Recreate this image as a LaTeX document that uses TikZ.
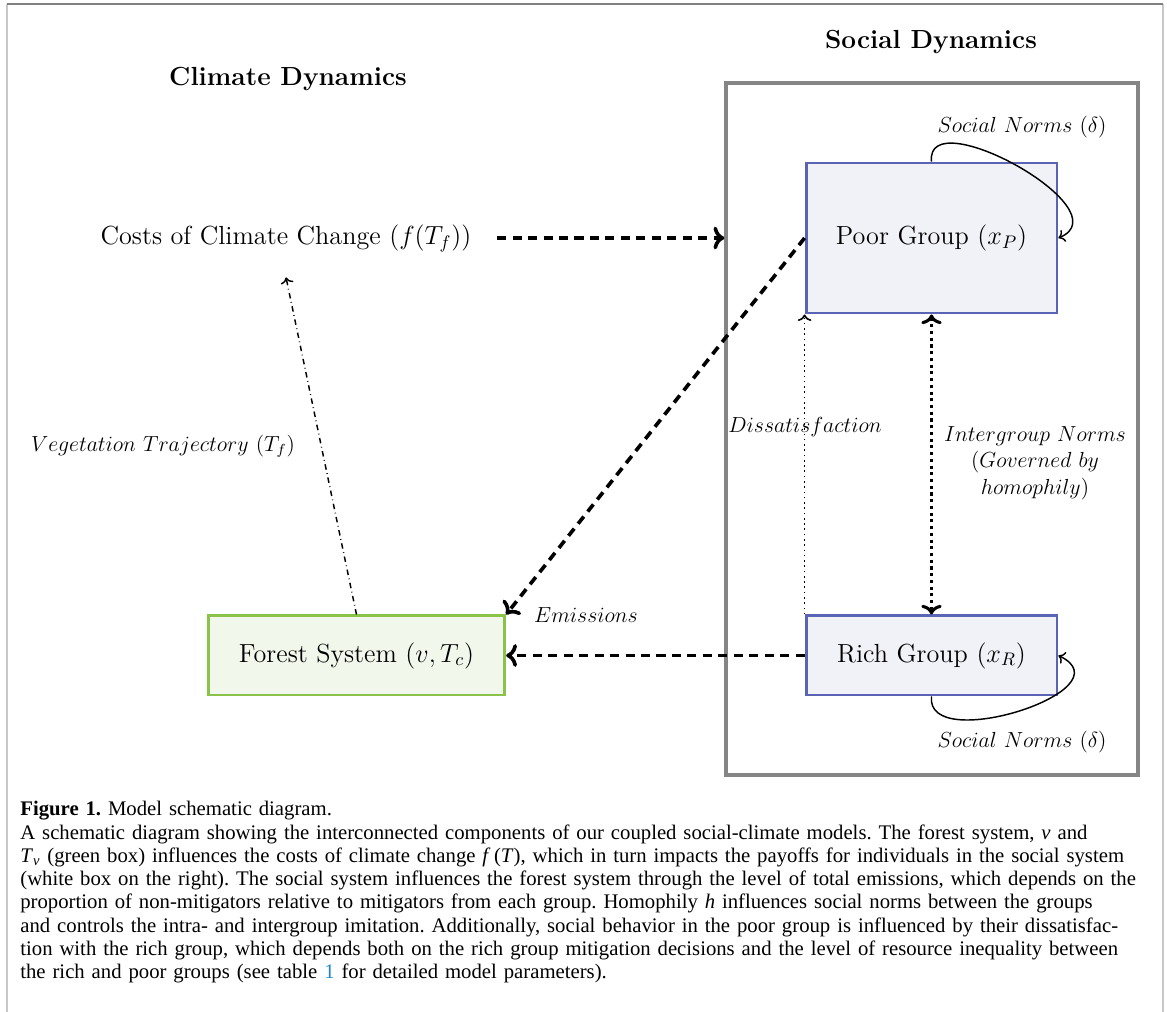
\documentclass[tikz,border=0pt,12pt]{standalone}
\usepackage{fontspec}
\newfontfamily\capfont{Liberation Serif}
\usepackage{amsmath}
\usepackage{xcolor}
\usetikzlibrary{arrows.meta, positioning}

\definecolor{poorblue}{HTML}{5B63B5}
\definecolor{poorfill}{HTML}{F1F1F8}
\definecolor{forestgreen}{HTML}{8BC34A}
\definecolor{forestfill}{HTML}{F2F7EC}
\definecolor{boxgray}{HTML}{858585}
\definecolor{framegray}{HTML}{C8C8C8}
\definecolor{linkblue}{HTML}{1E88C8}

\begin{document}
\begin{tikzpicture}[x=0.55pt, y=0.55pt,
    grp/.style={draw=poorblue, fill=poorfill, line width=1.6pt, minimum width=138pt, font=\large},
    lbl/.style={font=\normalsize},
    flow/.style={->, line width=2pt, dash pattern=on 5pt off 3.5pt},
    loopline/.style={->, line width=0.8pt}]
    \useasboundingbox (0,0) rectangle (1167,-1012);
    % page frame
    \draw[framegray, line width=1.1pt] (7,-1012) -- (7,-4);
    \draw[framegray, line width=1.1pt] (1163,-1012) -- (1163,-4);
    \draw[gray, line width=0.8pt] (7,-4) -- (1163,-4);

    % titles
    \node[font=\large\bfseries] (climate) at (288,-79) {Climate Dynamics};
    \node[font=\large\bfseries] (socialtitle) at (931,-42) {Social Dynamics};

    % boxes
    \node[draw=boxgray, line width=1.8pt, minimum width=226.6pt, minimum height=380.6pt] (social) at (932,-429) {};
    \node[grp, minimum height=82.5pt] (poor) at (931.5,-238) {Poor Group $(x_P)$};
    \node[grp, minimum height=43.5pt] (rich) at (931.5,-655.5) {Rich Group $(x_R)$};
    \node[draw=forestgreen, fill=forestfill, line width=1.6pt, minimum width=163pt, minimum height=43.5pt, font=\large] (forest) at (356.5,-655.5) {Forest System $(v, T_c)$};
    \node[font=\large, inner sep=14pt] (costs) at (286,-238) {Costs of Climate Change $(f(T_f))$};

    % connectors
    \draw[flow] (costs.east) -- (costs.east -| social.west);
    \draw[flow] (poor.west) -- (forest.north east);
    \draw[flow] (rich.west) -- (forest.east);
    \draw[->, dash dot, line width=0.8pt] (forest.north) -- (costs.south);
    \draw[->, dotted, line width=0.9pt] (rich.north west) -- (poor.south west);
    \draw[<->, dotted, line width=1.7pt] (poor.south) -- (rich.north);
    \draw[loopline] (poor.north) .. controls (925,-100) and (1125,-210) .. (poor.east);
    \draw[loopline] (rich.south) .. controls (925,-755) and (1130,-690) .. (rich.east);

    % labels
    \node[lbl] (snpoor) at (1022,-127) {$Social~Norms~(\delta)$};
    \node[lbl] (snrich) at (1022,-742) {$Social~Norms~(\delta)$};
    \node[lbl] (emis) at (586,-615) {$Emissions$};
    \node[lbl] (veg) at (163,-446) {$Vegetation~Trajectory~(T_f)$};
    \node[lbl] (dis) at (805,-427) {$Dissatisfaction$};
    \node[lbl, align=center] (inter) at (1035,-463) {$Intergroup~Norms$\\$(Governed~by$\\$homophily)$};

    % caption
    \node[anchor=north west, text width=640pt, align=left, inner sep=0pt,
          font={\capfont\fontsize{11.4}{12.8}\selectfont\frenchspacing}] (caption) at (20,-801)
    {\textbf{Figure 1.} Model schematic diagram.\\
    A schematic diagram showing the interconnected components of our coupled social-climate models. The forest system, \textit{v} and\\
    \textit{T}\textsubscript{\textit{v}} (green box) influences the costs of climate change \textit{f}\,(\textit{T}), which in turn impacts the payoffs for individuals in the social system\\
    (white box on the right). The social system influences the forest system through the level of total emissions, which depends on the\\
    proportion of non-mitigators relative to mitigators from each group. Homophily \textit{h} influences social norms between the groups\\
    and controls the intra- and intergroup imitation. Additionally, social behavior in the poor group is influenced by their dissatisfac-\\
    tion with the rich group, which depends both on the rich group mitigation decisions and the level of resource inequality between\\
    the rich and poor groups (see table \textcolor{linkblue}{1} for detailed model parameters).};
\end{tikzpicture}
\end{document}
